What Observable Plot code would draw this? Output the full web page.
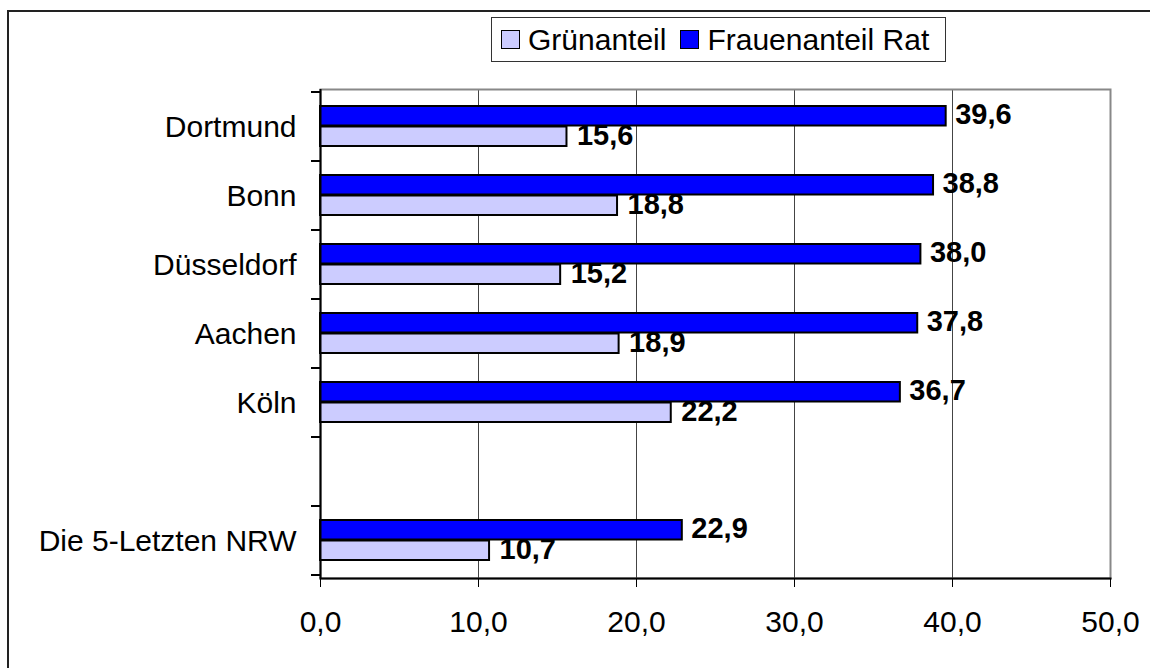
<!DOCTYPE html>
<html><head><meta charset="utf-8">
<script src="https://cdn.jsdelivr.net/npm/d3@7"></script>
<script src="https://cdn.jsdelivr.net/npm/@observablehq/plot@0.6"></script>
<style>
html,body{margin:0;padding:0;background:#fff;}
#wrap{position:relative;width:1150px;height:668px;overflow:hidden;font-family:"Liberation Sans",Arial,sans-serif;}
#border{position:absolute;left:7px;top:10px;width:1200px;height:700px;border-left:2px solid #222;border-top:2px solid #222;}
#legend{position:absolute;left:491px;top:17px;width:453px;height:43px;border:1px solid #333;background:#fff;display:flex;align-items:center;font-size:30px;color:#000;}
.sw{width:17px;height:17px;border:1.5px solid #000;display:inline-block;margin-right:8px;}
.item{display:flex;align-items:center;}
#chart{position:absolute;left:0;top:0;}
</style></head>
<body><div id="wrap"><div id="border"></div><div id="chart"></div><div id="legend"></div></div>
<script>
const cities = ["Dortmund","Bonn","Düsseldorf","Aachen","Köln"," ","Die 5-Letzten NRW"];
const gruenanteil = [15.6,18.8,15.2,18.9,22.2,null,10.7];
const frauenanteil = [39.6,38.8,38.0,37.8,36.7,null,22.9];
const seriesNames = ["Grünanteil","Frauenanteil Rat"];
const seriesColors = ["#CCCCFF","#0000FF"];
const xTicks = [0,10,20,30,40,50];

const fmt = v => v.toFixed(1).replace(".", ",");
const rowsG = cities.map((c,i)=>({city:c,value:gruenanteil[i]})).filter(d=>d.value!=null);
const rowsF = cities.map((c,i)=>({city:c,value:frauenanteil[i]})).filter(d=>d.value!=null);

const plot = Plot.plot({
  width:1150, height:668,
  marginLeft:320, marginRight:40, marginTop:89, marginBottom:90,
  style:{fontFamily:"'Liberation Sans',Arial,sans-serif", fontSize:"30px", color:"#000", background:"transparent", overflow:"visible"},
  x:{domain:[0,50]},
  y:{domain:cities, padding:0},
  marks:[
    Plot.gridX(xTicks.slice(1,-1), {stroke:"#444", strokeOpacity:1, strokeWidth:1}),
    Plot.frame({stroke:"#888", strokeWidth:2}),
    Plot.barX(rowsF, {x:"value", y:"city", fill:seriesColors[1], stroke:"#000", strokeWidth:2, insetTop:14, insetBottom:35.5}),
    Plot.barX(rowsG, {x:"value", y:"city", fill:seriesColors[0], stroke:"#000", strokeWidth:2, insetTop:34.5, insetBottom:15}),
    Plot.ruleX([0], {stroke:"#000", strokeWidth:2}),
    Plot.frame({anchor:"bottom", stroke:"#000", strokeWidth:2}),
    Plot.axisX(xTicks, {tickSize:9, tickPadding:23, tickFormat:fmt, fontSize:30, label:null, stroke:"#000"}),
    Plot.axisY({tickSize:0, tickPadding:24, fontSize:30, label:null}),
    Plot.text(rowsF, {x:"value", y:"city", text:d=>fmt(d.value), dx:9, dy:-12, textAnchor:"start", fontWeight:"bold", fontSize:29, fill:"#000"}),
    Plot.text(rowsG, {x:"value", y:"city", text:d=>fmt(d.value), dx:10, dy:9, textAnchor:"start", fontWeight:"bold", fontSize:29, fill:"#000"})
  ]
});
document.getElementById("chart").appendChild(plot);

// band-edge tick marks on the category axis, from the plot's y scale
const ys = plot.scale("y");
const edges = cities.map(c => ys.apply(c));
edges.push(ys.apply(cities[cities.length-1]) + ys.bandwidth);
const x0 = plot.scale("x").apply(0);
const g = d3.select(plot).append("g");
edges.forEach(e => {
  g.append("line").attr("x1", x0-9).attr("x2", x0).attr("y1", e).attr("y2", e).attr("stroke","#000").attr("stroke-width",2);
});

// legend
const lg = document.getElementById("legend");
seriesNames.forEach((n,i)=>{
  const it = document.createElement("div"); it.className="item";
  it.style.marginLeft = i===0 ? "9px" : "14px";
  const sw = document.createElement("span"); sw.className="sw"; sw.style.background = seriesColors[i];
  const t = document.createElement("span"); t.textContent = n;
  it.appendChild(sw); it.appendChild(t); lg.appendChild(it);
});
</script></body></html>
